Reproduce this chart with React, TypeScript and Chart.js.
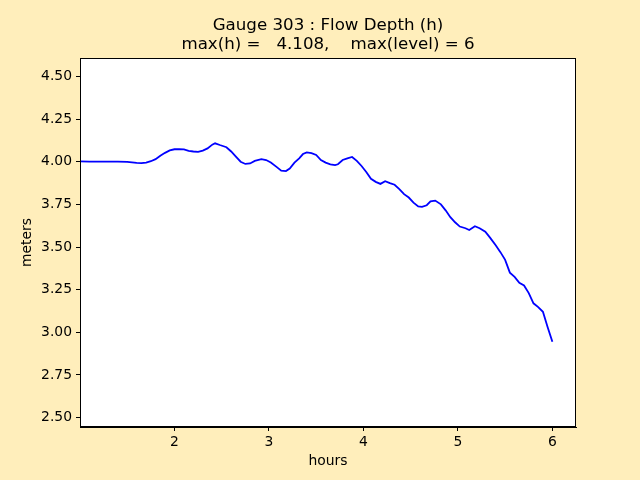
import React, { useEffect, useRef } from "react";
import { Chart, registerables } from "chart.js";

Chart.register(...registerables);

const hours = [
  1.0, 1.1, 1.2, 1.3, 1.4, 1.5, 1.6, 1.65, 1.7, 1.75, 1.8, 1.85, 1.9, 1.95,
  2.0, 2.05, 2.1, 2.15, 2.2, 2.25, 2.3, 2.35, 2.4, 2.43, 2.48, 2.55, 2.6,
  2.65, 2.7, 2.75, 2.8, 2.85, 2.92, 2.97, 3.02, 3.08, 3.13, 3.18, 3.22, 3.27,
  3.32, 3.36, 3.4, 3.45, 3.5, 3.55, 3.6, 3.65, 3.7, 3.73, 3.78, 3.83, 3.88,
  3.93, 3.98, 4.03, 4.08, 4.13, 4.18, 4.23, 4.28, 4.33, 4.38, 4.43, 4.48,
  4.53, 4.58, 4.62, 4.67, 4.71, 4.76, 4.82, 4.87, 4.92, 4.97, 5.02, 5.08,
  5.12, 5.18, 5.23, 5.29, 5.34, 5.4, 5.45, 5.5, 5.55, 5.6, 5.65, 5.7, 5.75,
  5.8, 5.85, 5.9, 5.95, 6.0,
];

const depth = [
  4.002, 4.001, 4.001, 4.0, 4.0, 3.999, 3.993, 3.992, 3.995, 4.003, 4.015,
  4.035, 4.052, 4.066, 4.073, 4.074, 4.072, 4.064, 4.06, 4.058, 4.065, 4.078,
  4.1, 4.108, 4.098, 4.085, 4.06, 4.03, 4.0, 3.987, 3.99, 4.005, 4.015, 4.01,
  3.995, 3.97, 3.948, 3.945, 3.96, 3.995, 4.02, 4.045, 4.055, 4.05, 4.04,
  4.01, 3.995, 3.985, 3.98, 3.985, 4.01, 4.02, 4.028, 4.005, 3.975, 3.94,
  3.9, 3.882, 3.87, 3.886, 3.875, 3.865, 3.84, 3.81, 3.79, 3.76, 3.738,
  3.735, 3.745, 3.768, 3.772, 3.75, 3.715, 3.675, 3.645, 3.62, 3.61, 3.6,
  3.622, 3.61, 3.59, 3.555, 3.51, 3.47, 3.425, 3.35, 3.325, 3.29, 3.275,
  3.23, 3.17, 3.148, 3.12, 3.03, 2.945,
];

const xTicks = [2, 3, 4, 5, 6];
const yTicks = [2.5, 2.75, 3.0, 3.25, 3.5, 3.75, 4.0, 4.25, 4.5];

const titleLine1 = "Gauge 303 : Flow Depth (h)";
const titleLine2 = "max(h) =   4.108,    max(level) = 6";
const xLabel = "hours";
const yLabel = "meters";

const FONT = "'DejaVu Sans', sans-serif";

export default function App() {
  const ref = useRef<HTMLCanvasElement | null>(null);

  useEffect(() => {
    const canvas = ref.current;
    if (!canvas) return;

    const decor = {
      id: "decor",
      beforeDraw(chart: any) {
        const { ctx, chartArea } = chart;
        ctx.save();
        ctx.fillStyle = "#ffeebb";
        ctx.fillRect(0, 0, chart.width, chart.height);
        ctx.fillStyle = "#ffffff";
        ctx.fillRect(
          chartArea.left,
          chartArea.top,
          chartArea.right - chartArea.left,
          chartArea.bottom - chartArea.top
        );
        ctx.restore();
      },
      afterDraw(chart: any) {
        const { ctx, chartArea } = chart;
        ctx.save();
        ctx.strokeStyle = "#000";
        ctx.lineWidth = 1;
        ctx.strokeRect(
          Math.round(chartArea.left) + 0.5,
          Math.round(chartArea.top) + 0.5,
          Math.round(chartArea.right - chartArea.left) - 1,
          Math.round(chartArea.bottom - chartArea.top) - 1
        );
        const cx = (chartArea.left + chartArea.right) / 2;
        ctx.fillStyle = "#000";
        ctx.textAlign = "center";
        ctx.textBaseline = "middle";
        ctx.font = `16.67px ${FONT}`;
        ctx.fillText(titleLine1, cx, 26);
        ctx.fillText(titleLine2, cx, 45);
        ctx.font = `13.9px ${FONT}`;
        ctx.fillText(xLabel, cx, 461);
        ctx.translate(27, (chartArea.top + chartArea.bottom) / 2);
        ctx.rotate(-Math.PI / 2);
        ctx.fillText(yLabel, 0, 0);
        ctx.restore();
      },
    };

    const chart = new Chart(canvas, {
      type: "line",
      data: {
        datasets: [
          {
            data: hours.map((h, i) => ({ x: h, y: depth[i] })),
            borderColor: "#0000ff",
            borderWidth: 1.8,
            pointRadius: 0,
            fill: false,
            tension: 0,
          },
        ],
      },
      options: {
        responsive: false,
        animation: false,
        devicePixelRatio: 1,
        layout: { padding: { left: 0, right: 64, top: 58, bottom: 0 } },
        plugins: {
          legend: { display: false },
          title: { display: false },
          tooltip: { enabled: false },
        },
        scales: {
          x: {
            type: "linear",
            min: 1.0,
            max: 6.25,
            afterBuildTicks: (s: any) => {
              s.ticks = xTicks.map((v) => ({ value: v }));
            },
            afterFit: (s: any) => {
              s.height = 53;
            },
            ticks: {
              color: "#000",
              font: { family: FONT, size: 13.9 },
              padding: 3,
              maxRotation: 0,
              callback: (v: any) => String(v),
            },
            grid: {
              drawOnChartArea: false,
              drawTicks: true,
              tickLength: 4,
              tickColor: "#000",
              color: "#000",
            },
            border: { display: true, color: "#000" },
          },
          y: {
            type: "linear",
            min: 2.445,
            max: 4.608,
            afterBuildTicks: (s: any) => {
              s.ticks = yTicks.map((v) => ({ value: v }));
            },
            afterFit: (s: any) => {
              s.width = 80;
            },
            ticks: {
              color: "#000",
              font: { family: FONT, size: 13.9 },
              padding: 4,
              callback: (v: any) => Number(v).toFixed(2),
            },
            grid: {
              drawOnChartArea: false,
              drawTicks: true,
              tickLength: 4,
              tickColor: "#000",
              color: "#000",
            },
            border: { display: true, color: "#000" },
          },
        },
      },
      plugins: [decor],
    } as any);

    return () => chart.destroy();
  }, []);

  return (
    <div
      style={{
        position: "absolute",
        left: 0,
        top: 0,
        width: 640,
        height: 480,
        background: "#ffeebb",
      }}
    >
      <canvas ref={ref} width={640} height={480} />
    </div>
  );
}
